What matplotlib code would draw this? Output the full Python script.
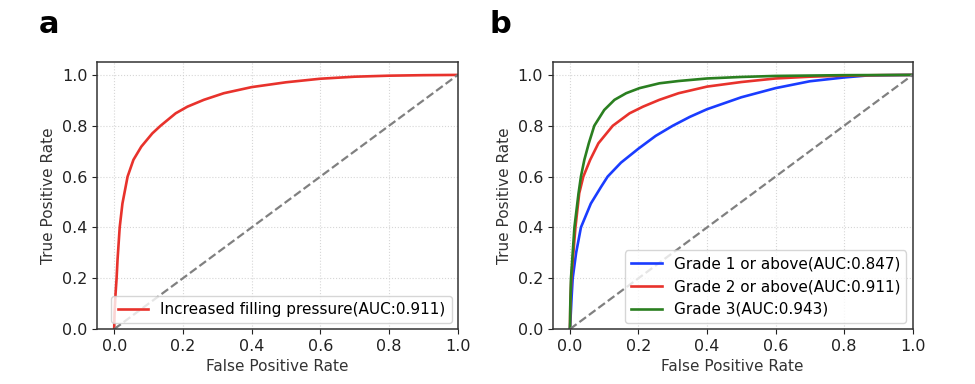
import matplotlib
matplotlib.use('Agg')
import matplotlib.pyplot as plt

# ROC curve points
FPR_A = [0, 0.001, 0.004, 0.007, 0.0097, 0.016, 0.024, 0.039, 0.056, 0.079, 0.111, 0.135,
         0.179, 0.213, 0.261, 0.319, 0.4, 0.5, 0.6, 0.7, 0.8, 0.9, 1.0]
TPR_A = [0, 0.06, 0.14, 0.2, 0.272, 0.4, 0.494, 0.6, 0.666, 0.718, 0.77, 0.8,
         0.849, 0.875, 0.902, 0.928, 0.952, 0.971, 0.985, 0.993, 0.997, 0.999, 1.0]

FPR_G1 = [0, 0.002, 0.005, 0.008, 0.018, 0.032, 0.061, 0.091, 0.11, 0.149, 0.2, 0.25,
          0.3, 0.35, 0.4, 0.5, 0.6, 0.7, 0.8, 0.87, 1.0]
TPR_G1 = [0, 0.05, 0.13, 0.2, 0.3, 0.4, 0.494, 0.56, 0.6, 0.655, 0.71, 0.76,
          0.8, 0.835, 0.865, 0.912, 0.948, 0.975, 0.99, 0.998, 1.0]

FPR_G2 = [0, 0.001, 0.004, 0.016, 0.027, 0.039, 0.059, 0.083, 0.125, 0.174, 0.213, 0.261,
          0.317, 0.4, 0.5, 0.6, 0.7, 0.8, 0.9, 1.0]
TPR_G2 = [0, 0.09, 0.2, 0.4, 0.534, 0.6, 0.666, 0.731, 0.8, 0.849, 0.875, 0.902,
          0.928, 0.954, 0.972, 0.986, 0.993, 0.997, 0.999, 1.0]

FPR_G3 = [0, 0.001, 0.003, 0.013, 0.025, 0.032, 0.042, 0.055, 0.071, 0.1, 0.13, 0.164,
          0.203, 0.261, 0.317, 0.4, 0.5, 0.6, 0.8, 1.0]
TPR_G3 = [0, 0.1, 0.2, 0.4, 0.534, 0.6, 0.666, 0.731, 0.8, 0.862, 0.902, 0.928,
          0.948, 0.967, 0.976, 0.986, 0.992, 0.996, 0.999, 1.0]

LABEL_A = 'Increased filling pressure(AUC:0.911)'
LABELS_B = ['Grade 1 or above(AUC:0.847)', 'Grade 2 or above(AUC:0.911)', 'Grade 3(AUC:0.943)']

RED, BLUE, GREEN = '#e8322c', '#1a3cff', '#2a7f20'

plt.rcParams.update({'font.family': 'DejaVu Sans', 'font.size': 11})


def _frame(ax):
    ax.plot([0, 1], [0, 1], '--', color='grey', lw=1.6)
    ax.set_xlim(-0.05, 1.0)
    ax.set_ylim(0, 1.05)
    ax.grid(True, ls=':', color='#cccccc', lw=0.8, alpha=0.8)
    ax.set_xlabel('False Positive Rate', color='#333333', fontsize=11)
    ax.set_ylabel('True Positive Rate', color='#333333', fontsize=11)
    ax.tick_params(colors='#222222', labelsize=11.5)
    for s in ax.spines.values():
        s.set_color('#333333')
        s.set_linewidth(1.1)


fig = plt.figure(figsize=(9.75, 3.84), dpi=100)
ax1 = fig.add_axes([0.0995, 0.143, 0.370, 0.695])
ax2 = fig.add_axes([0.567, 0.143, 0.369, 0.695])

ax1.plot(FPR_A, TPR_A, color=RED, lw=1.9, label=LABEL_A)
_frame(ax1)
ax1.legend(loc='lower right', fontsize=11, handlelength=2.0, borderaxespad=0.4)

ax2.plot(FPR_G1, TPR_G1, color=BLUE, lw=1.9, label=LABELS_B[0])
ax2.plot(FPR_G2, TPR_G2, color=RED, lw=1.9, label=LABELS_B[1])
ax2.plot(FPR_G3, TPR_G3, color=GREEN, lw=1.9, label=LABELS_B[2])
_frame(ax2)
ax2.legend(loc='lower right', fontsize=11, handlelength=2.0, borderaxespad=0.4)

fig.text(0.040, 0.915, 'a', fontsize=22, fontweight='bold')
fig.text(0.502, 0.915, 'b', fontsize=22, fontweight='bold')

fig.savefig('out.png', facecolor='white')
